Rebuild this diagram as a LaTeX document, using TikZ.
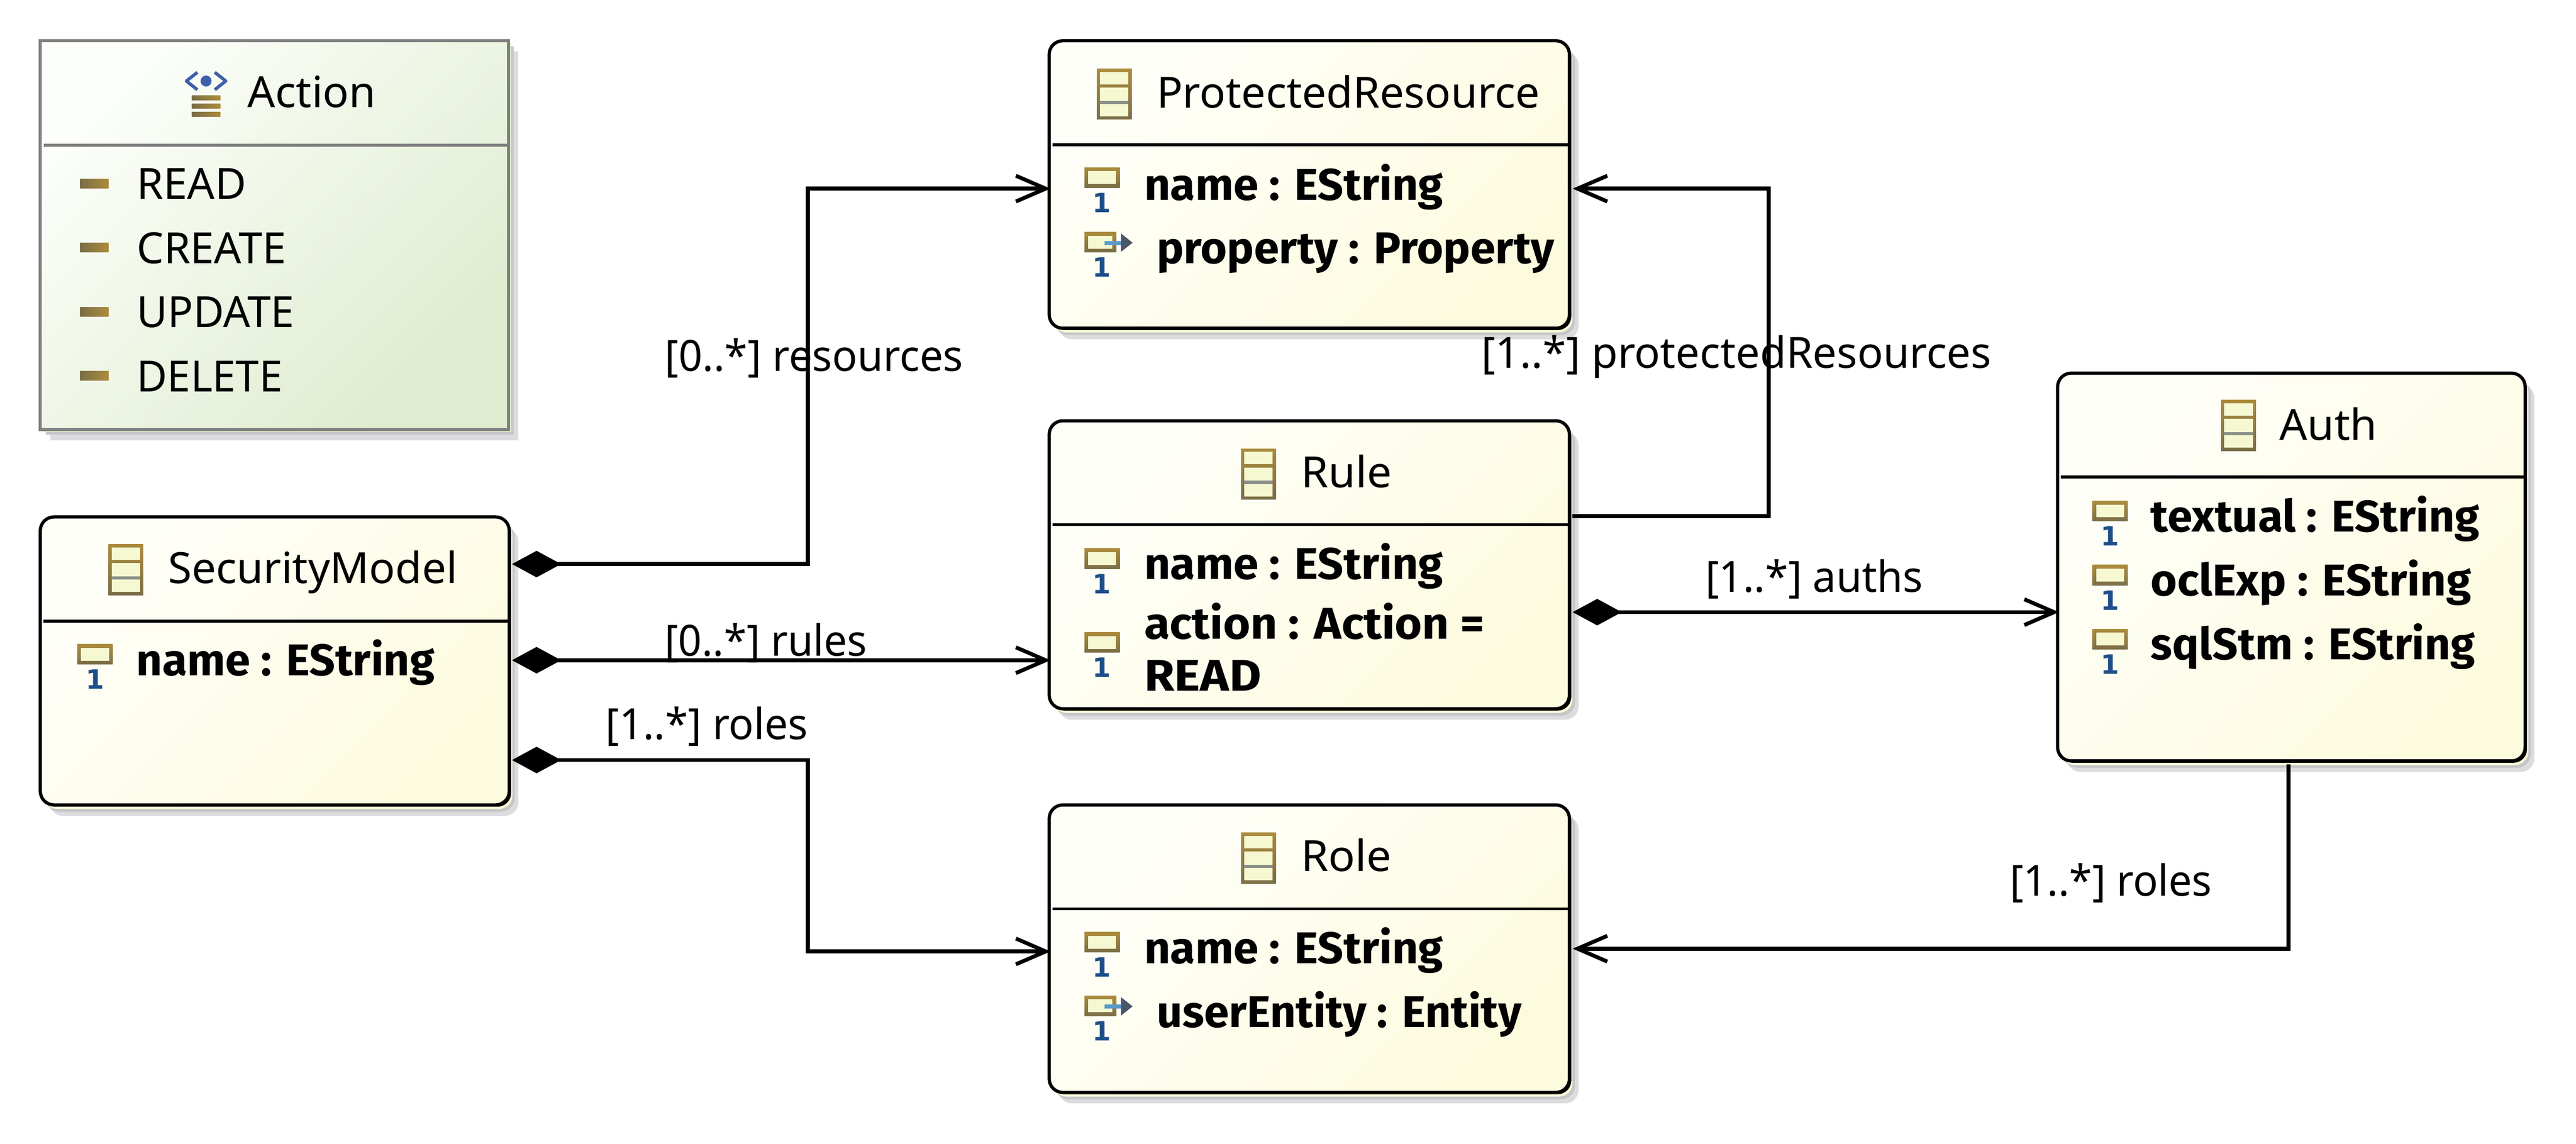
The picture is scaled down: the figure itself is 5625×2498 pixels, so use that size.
\documentclass[tikz,border=0pt]{standalone}
\usepackage{fontspec}
\usepackage{graphicx}
\setmainfont{Noto Sans}
\newfontfamily\onefont{DejaVu Sans}
\newfontfamily\attrfont{Fira Sans}
\usetikzlibrary{arrows.meta,calc}
\definecolor{clsA}{HTML}{FFFFFA}
\definecolor{clsB}{HTML}{FDFBDE}
\definecolor{enuA}{HTML}{FCFEFA}
\definecolor{enuB}{HTML}{DFECCF}
\definecolor{shA}{HTML}{DCDCDE}
\definecolor{shB}{HTML}{C6C6CA}
\definecolor{pale}{HTML}{FBFAD8}
\definecolor{paleg}{HTML}{DDEACB}
\definecolor{brnA}{HTML}{AC8C3C}
\definecolor{brnB}{HTML}{7A6E48}
\definecolor{icoin}{HTML}{F6F8D2}
\definecolor{oneblue}{HTML}{1D4E89}
\definecolor{chev}{HTML}{3F5FA8}
\definecolor{shaft}{HTML}{5A9CC8}
\definecolor{headc}{HTML}{4A5568}
\definecolor{midline}{HTML}{8A9088}
\newcommand\fitw[2]{\hspace{-1.2pt}\resizebox{\dimexpr0.28453pt*(#1+8)\relax}{\height}{#2}}
\newcounter{icn}
\tikzset{
  txt/.style={inner sep=0pt,outer sep=0pt,anchor=base west,font=\fontsize{26.7}{32}\selectfont},
  btxt/.style={txt,font=\attrfont\bfseries\fontsize{27.6}{32}\selectfont},
  classbox/.style={draw=black,line width=2pt,rounded corners=8.5pt,inner sep=0pt,outer sep=0pt,anchor=north west,
    top color=clsA,bottom color=clsB,shading angle=45},
  enumbox/.style={draw=black!50,line width=1.9pt,inner sep=0pt,outer sep=0pt,anchor=north west,
    top color=enuA,bottom color=enuB,shading angle=45},
  sep/.style={line width=1.8pt,draw=black},
  sepg/.style={line width=1.8pt,draw=black!50},
  link/.style={line width=2.4pt,draw=black,line join=miter,-{Straight Barb[length=18.5pt,width=16pt,line width=2.4pt]}},
  comp/.style={line width=2.4pt,draw=black,line join=miter,{Diamond[length=30.5pt,width=16.5pt]}-{Straight Barb[length=18.5pt,width=16pt,line width=2.4pt]}},
  onelbl/.style={inner sep=0pt,outer sep=0pt,anchor=base,text=oneblue,font=\onefont\bfseries\fontsize{16.5}{18}\selectfont},
}
\newcommand\classnode[5]{%
  \fill[shA,rounded corners=8.5pt] ({#2+20},{#3+24}) rectangle ++(#4,#5);
  \fill[shB,rounded corners=8.5pt] ({#2+12},{#3+15}) rectangle ++(#4,#5);
  \fill[pale,rounded corners=8.5pt] ({#2+7},{#3+9}) rectangle ++(#4,#5);
  \fill[black,rounded corners=8.5pt] ({#2+4},{#3+4}) rectangle ++(#4,#5);
  \node[classbox,minimum width=#4*0.01cm,minimum height=#5*0.01cm] (#1) at (#2,#3) {};
}
\newcommand\attricon[2]{%
  \stepcounter{icn}%
  \begin{scope}[shift={(#1,#2)}]
    \shade[top color=brnA,bottom color=brnB] (0,0) rectangle (77,44);
    \fill[icoin] (8,8) rectangle (69,36);
    \node[onelbl] (one\theicn) at (38,98) {1};
  \end{scope}
}
\newcommand\refattricon[2]{%
  \stepcounter{icn}%
  \begin{scope}[shift={(#1,#2)}]
    \shade[top color=brnA,bottom color=brnB] (0,0) rectangle (69,44);
    \fill[icoin] (8,8) rectangle (61,36);
    \fill[shaft] (44,19) rectangle (81,28);
    \fill[headc] (80,3) -- (105,23) -- (80,43) -- cycle;
    \node[onelbl] (one\theicn) at (38,98) {1};
  \end{scope}
}
\newcommand\classicon[2]{%
  \begin{scope}[shift={(#1,#2)}]
    \shade[top color=brnA,bottom color=brnB] (0,0) rectangle (76,111);
    \fill[icoin] (7,7) rectangle (69,34);
    \fill[icoin] (7,41) rectangle (69,70);
    \fill[icoin] (7,77) rectangle (69,104);
    \fill[midline] (7,70) rectangle (69,77);
  \end{scope}
}
\newcommand\litbar[1]{%
  \shade[left color=brnB,right color=brnA] (175,{#1-10}) rectangle (237,{#1+10});
}
\begin{document}
\begin{tikzpicture}[x=0.01cm,y=-0.01cm]
\useasboundingbox (0,0) rectangle (5625,2498);
\fill[white] (0,0) rectangle (5625,2498);

% Action enumeration
\fill[shA] (110,113) rectangle ++(1022,849);
\fill[shB] (100,101) rectangle ++(1022,849);
\fill[paleg] (94,95) rectangle ++(1022,849);
\fill[black!50] (91,92) rectangle ++(1022,849);
\node[enumbox,minimum width=1022*0.01cm,minimum height=849*0.01cm] (action) at (88,89) {};
\draw[sepg] (96,317) -- (1110,317);
\draw[chev,line width=2pt,line join=round] (431,158) -- (407,177) -- (431,196);
\draw[chev,line width=2pt,line join=round] (469,158) -- (493,177) -- (469,196);
\fill[chev] (450,177) circle (12);
\shade[left color=brnB,right color=brnA] (419,209) rectangle (481,219);
\shade[left color=brnB,right color=brnA] (419,227) rectangle (481,237);
\shade[left color=brnB,right color=brnA] (419,245) rectangle (481,255);
\node[txt] (actionT) at (545,235) {\fitw{272}{Action}};
\litbar{401}\litbar{541}\litbar{681}\litbar{821}
\node[txt] (litA) at (303,435) {\fitw{231}{READ}};
\node[txt] (litB) at (303,576) {\fitw{318}{CREATE}};
\node[txt] (litC) at (303,715) {\fitw{336}{UPDATE}};
\node[txt] (litD) at (303,856) {\fitw{310}{DELETE}};

% ProtectedResource
\classnode{pr}{2291}{89}{1136}{628}
\draw[sep] (2298,316) -- (3427,316);
\classicon{2395}{150}
\node[txt] (prT) at (2530,236) {\fitw{828}{ProtectedResource}};
\attricon{2368}{366}
\node[btxt] (prA) at (2503,437) {\fitw{644}{name : EString}};
\refattricon{2368}{507}
\node[btxt] (prB) at (2530,576) {\fitw{860}{property : Property}};

% SecurityModel
\classnode{sm}{88}{1129}{1024}{629}
\draw[sep] (95,1357) -- (1112,1357);
\classicon{237}{1189}
\node[txt] (smT) at (371,1274) {\fitw{624}{SecurityModel}};
\attricon{169}{1407}
\node[btxt] (smA) at (302,1475) {\fitw{643}{name : EString}};

% Rule
\classnode{rule}{2291}{919}{1136}{629}
\draw[sep] (2298,1146) -- (3427,1146);
\classicon{2710}{980}
\node[txt] (ruleT) at (2845,1065) {\fitw{190}{Rule}};
\attricon{2368}{1198}
\node[btxt] (ruleA) at (2503,1265) {\fitw{644}{name : EString}};
\attricon{2368}{1381}
\node[btxt] (ruleB) at (2503,1396) {\fitw{734}{action : Action =}};
\node[btxt] (ruleC) at (2503,1509) {\fitw{247}{READ}};

% Role
\classnode{role}{2291}{1758}{1136}{628}
\draw[sep] (2298,1985) -- (3427,1985);
\classicon{2710}{1819}
\node[txt] (roleT) at (2845,1903) {\fitw{190}{Role}};
\attricon{2368}{2036}
\node[btxt] (roleA) at (2503,2104) {\fitw{644}{name : EString}};
\refattricon{2368}{2175}
\node[btxt] (roleB) at (2530,2244) {\fitw{788}{userEntity : Entity}};

% Auth
\classnode{auth}{4493}{815}{1021}{847}
\draw[sep] (4500,1042) -- (5514,1042);
\classicon{4850}{874}
\node[txt] (authT) at (4982,961) {\fitw{205}{Auth}};
\attricon{4569}{1094}
\node[btxt] (authA) at (4701,1161) {\fitw{709}{textual : EString}};
\attricon{4569}{1234}
\node[btxt] (authB) at (4701,1301) {\fitw{691}{oclExp : EString}};
\attricon{4569}{1374}
\node[btxt] (authC) at (4701,1441) {\fitw{699}{sqlStm : EString}};

% Connectors
\draw[comp] ($(sm.east |- 0,1232)+(6,0)$) -- (1764,1232) -- (1764,412) -- ($(pr.west |- 0,412)+(3,0)$);
\draw[comp] ($(sm.east |- 0,1442)+(6,0)$) -- ($(rule.west |- 0,1442)+(3,0)$);
\draw[comp] ($(sm.east |- 0,1660)+(6,0)$) -- (1764,1660) -- (1764,2078) -- ($(role.west |- 0,2078)+(3,0)$);
\draw[link] ($(rule.east |- 0,1127)+(7,0)$) -- (3862,1127) -- (3862,412) -- ($(pr.east |- 0,412)+(7,0)$);
\draw[comp] ($(rule.east |- 0,1337)+(7,0)$) -- ($(auth.west |- 0,1337)+(3,0)$);
\draw[link] ($(auth.south -| 4997,0)+(0,7)$) -- (4997,2072) -- ($(role.east |- 0,2072)+(7,0)$);

% Connector labels
\node[txt] (l1) at (1456,811) {\fitw{643}{[0..*] resources}};
\node[txt] (l2) at (1456,1433) {\fitw{433}{[0..*] rules}};
\node[txt] (l3) at (1327,1615) {\fitw{433}{[1..*] roles}};
\node[txt] (l4) at (3239,804) {\fitw{1105}{[1..*] protectedResources}};
\node[txt] (l5) at (3728,1293) {\fitw{467}{[1..*] auths}};
\node[txt] (l6) at (4393,1957) {\fitw{433}{[1..*] roles}};
\end{tikzpicture}
\end{document}
